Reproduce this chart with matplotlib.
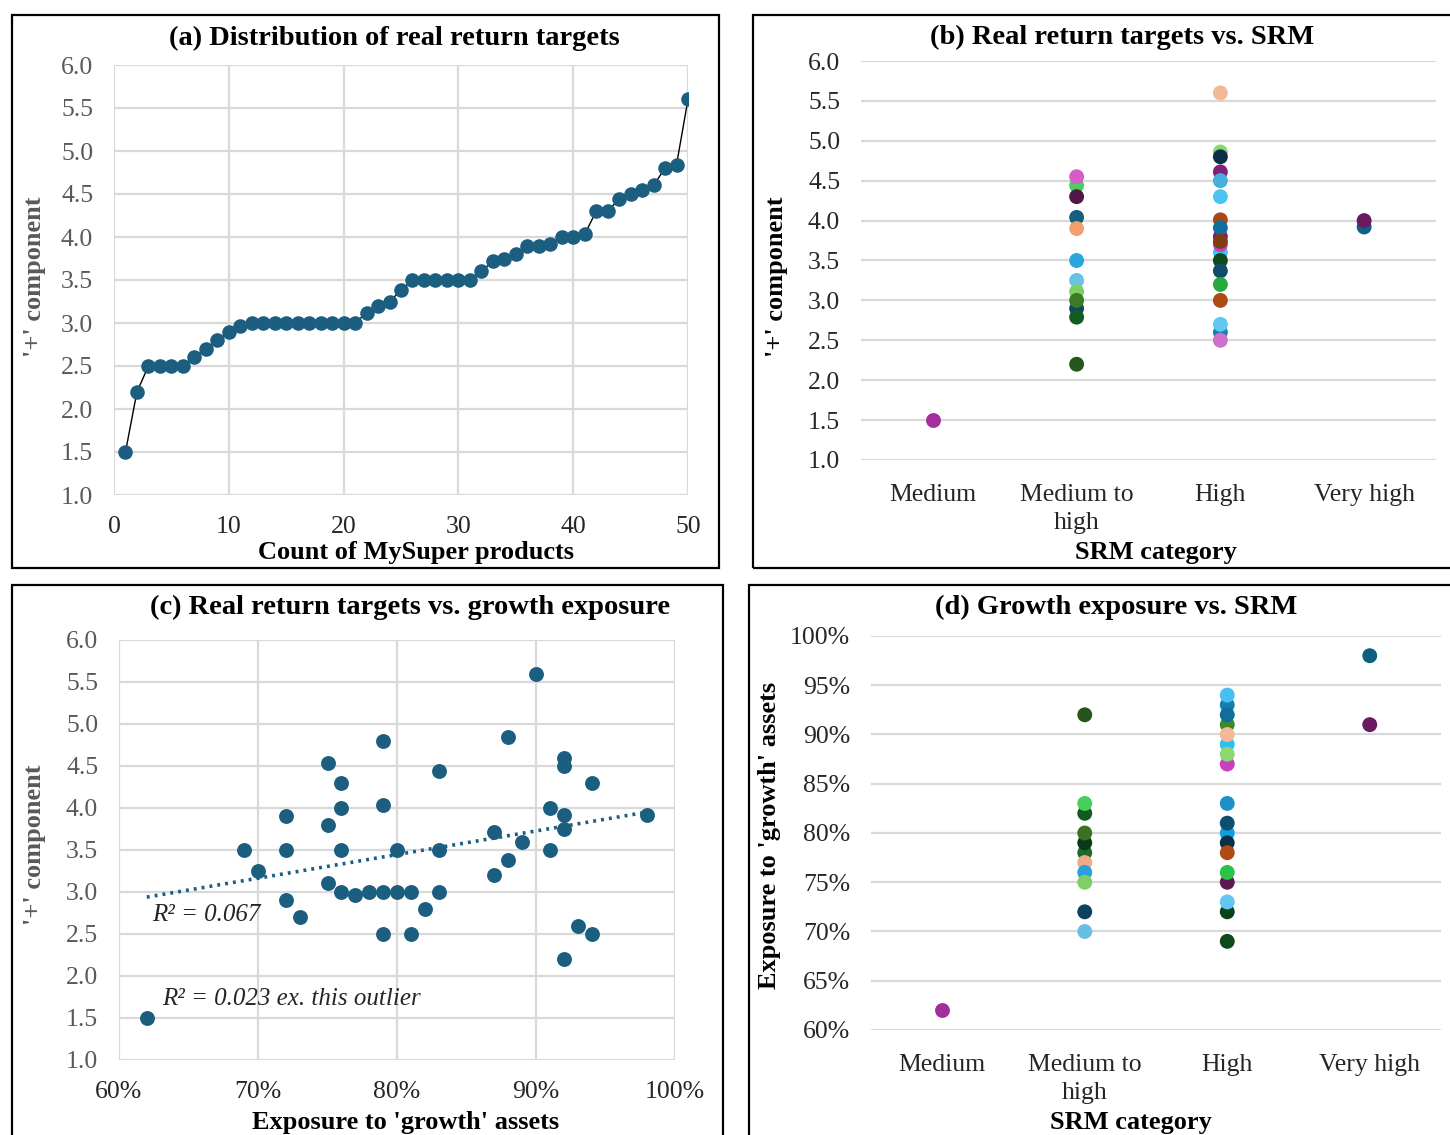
import numpy as np
import matplotlib
matplotlib.use("Agg")
import matplotlib.pyplot as plt
from matplotlib.patches import Rectangle
from matplotlib.ticker import MultipleLocator, FuncFormatter

plt.rcParams['font.family'] = ['Liberation Serif', 'DejaVu Serif']

W, H = 1450, 1135

# (a) sorted '+' component for each MySuper product
product_count = list(range(1, 51))
plus_sorted = [1.5, 2.2, 2.5, 2.5, 2.5, 2.5, 2.6, 2.7, 2.8, 2.9,
               2.96, 3.0, 3.0, 3.0, 3.0, 3.0, 3.0, 3.0, 3.0, 3.0,
               3.0, 3.12, 3.2, 3.25, 3.38, 3.5, 3.5, 3.5, 3.5, 3.5,
               3.5, 3.6, 3.72, 3.75, 3.8, 3.9, 3.9, 3.92, 4.0, 4.0,
               4.03, 4.3, 4.3, 4.44, 4.5, 4.55, 4.6, 4.8, 4.84, 5.6]

# (c) growth exposure (%) vs '+' component
growth_exposure = [62, 69, 70, 72, 72, 72, 73, 75, 75, 75, 76, 76, 76, 76, 77,
                   78, 79, 79, 79, 79, 80, 80, 81, 81, 82, 83, 83, 83, 87, 87,
                   88, 88, 89, 90, 91, 91, 92, 92, 92, 92, 92, 93, 94, 94, 98]
plus_vs_growth = [1.5, 3.5, 3.25, 3.9, 3.5, 2.9, 2.7, 4.54, 3.8, 3.11, 4.3, 4.0, 3.5, 3.0, 2.96,
                  3.0, 4.8, 4.03, 3.0, 2.5, 3.5, 3.0, 3.0, 2.5, 2.8, 4.44, 3.5, 3.0, 3.72, 3.2,
                  4.84, 3.38, 3.6, 5.6, 4.0, 3.5, 4.6, 4.5, 3.92, 3.75, 2.2, 2.6, 4.3, 2.5, 3.92]

srm_categories = ['Medium', 'Medium to\nhigh', 'High', 'Very high']

# (b) '+' component by SRM category
b_medium = [1.5]
b_medium_col = ['#a2309c']
b_mth = [4.44, 4.55, 4.3, 4.04, 3.9, 3.5, 3.25, 3.11, 2.9, 3.0, 2.79, 2.2]
b_mth_col = ['#4ccf5a', '#d35ec6', '#4f1848', '#14607f', '#f0a070', '#29a6dc',
             '#6ac1e6', '#7dd062', '#0f4868', '#3c7a25', '#135a25', '#27561b']
b_high = [5.6, 4.86, 4.8, 4.61, 4.5, 4.3, 3.6, 3.8, 3.7, 4.01, 3.91, 3.74,
          3.5, 3.37, 3.2, 3.0, 2.6, 2.7, 2.5]
b_high_col = ['#f4b896', '#8ad870', '#0a3048', '#84207a', '#45b0e0', '#4cc4f0',
              '#40c0f0', '#7a2070', '#c040c0', '#a84814', '#0e70a0', '#843a14',
              '#0f4a1e', '#124a6a', '#28a840', '#b04a14', '#1880b0', '#60c8f0', '#d070c8']
b_vhigh = [3.92, 4.0]
b_vhigh_col = ['#0e6088', '#6c1a60']

# (d) growth exposure (%) by SRM category
d_medium = [62]
d_medium_col = ['#a2309c']
d_mth = [92, 82, 83, 78, 79, 80, 77, 76, 75, 72, 70]
d_mth_col = ['#26541a', '#135a22', '#46d05a', '#1a6a28', '#0c3818', '#3a7222',
             '#f0aa88', '#28a0dc', '#7ed064', '#0e4060', '#68bfe6']
d_high = [93, 94, 91, 92, 89, 90, 87, 88, 83, 80, 81, 79, 78, 75, 76, 72, 73, 69]
d_high_col = ['#1580b0', '#45c0f0', '#3a8a28', '#0e709a', '#30c0f0', '#f4b896',
              '#c840c0', '#8ed874', '#1e90c8', '#10a0e0', '#0c5070', '#0a3048',
              '#b04a14', '#5e1850', '#2ac448', '#0c4018', '#60c8f0', '#0e4a1c']
d_vhigh = [98, 91]
d_vhigh_col = ['#0e6080', '#6a1a60']

BLUE = '#1b5e80'
GRID = '#d9d9d9'
TICK = '#595959'
TITLE_FS = 20.5
LABEL_FS = 19
TICK_FS = 18.5


def px_axes(fig, left, top, right, bottom):
    return fig.add_axes([left / W, 1 - bottom / H, (right - left) / W, (bottom - top) / H])


def ftext(fig, x, y, s, **kw):
    fig.text(x / W, 1 - y / H, s, ha='center', va='center', **kw)


def style_axes(ax, vgrid):
    for sp in ax.spines.values():
        sp.set_visible(False)
    ax.grid(axis='y', color=GRID, linewidth=1.6)
    if vgrid:
        ax.grid(axis='x', color=GRID, linewidth=1.6)
    ax.set_axisbelow(True)
    ax.tick_params(length=0, labelsize=TICK_FS, labelcolor=TICK, pad=15)


def cat_scatter(ax, groups):
    for i, (vals, cols) in enumerate(groups):
        ax.scatter([i] * len(vals), vals, s=115, c=cols, linewidths=0, zorder=3)
    ax.set_xlim(-0.5, 3.5)
    ax.set_xticks(range(4))
    ax.set_xticklabels(srm_categories, linespacing=1.35)
    ax.tick_params(axis='x', labelcolor='#262626', pad=17)


def main():
    fig = plt.figure(figsize=(W / 100, H / 100), dpi=100)

    # panel borders
    for (l, t, r, b) in [(12, 15, 719, 568), (753, 15, 1460, 568),
                         (12, 585, 723, 1150), (749, 585, 1460, 1150)]:
        fig.patches.append(Rectangle((l / W, 1 - b / H), (r - l) / W, (b - t) / H,
                                     transform=fig.transFigure, fill=False,
                                     edgecolor='black', linewidth=1.6))

    # (a)
    ax = px_axes(fig, 114, 65, 688, 495)
    style_axes(ax, True)
    ax.plot(product_count, plus_sorted, color='black', linewidth=1, zorder=2)
    ax.scatter(product_count, plus_sorted, s=110, color=BLUE, linewidths=0, zorder=3)
    ax.set_xlim(0, 50)
    ax.set_ylim(1, 6)
    ax.xaxis.set_major_locator(MultipleLocator(10))
    ax.yaxis.set_major_locator(MultipleLocator(0.5))
    ax.yaxis.set_major_formatter(FuncFormatter(lambda v, p: f'{v:.1f}'))
    ax.tick_params(axis='x', pad=15, labelcolor='#262626')
    ftext(fig, 394, 38, '(a) Distribution of real return targets', fontsize=TITLE_FS, weight='bold')
    ftext(fig, 416, 552, 'Count of MySuper products', fontsize=LABEL_FS, weight='bold')
    ftext(fig, 35, 277, "'+' component", fontsize=LABEL_FS, weight='bold', color=TICK, rotation=90)

    # (b)
    ax = px_axes(fig, 861, 61, 1436, 460)
    style_axes(ax, False)
    cat_scatter(ax, [(b_medium, b_medium_col), (b_mth, b_mth_col),
                     (b_high, b_high_col), (b_vhigh, b_vhigh_col)])
    ax.set_ylim(1, 6)
    ax.yaxis.set_major_locator(MultipleLocator(0.5))
    ax.yaxis.set_major_formatter(FuncFormatter(lambda v, p: f'{v:.1f}'))
    ax.tick_params(axis='y', labelcolor='#262626')
    ftext(fig, 1122, 37, '(b) Real return targets vs. SRM', fontsize=TITLE_FS, weight='bold')
    ftext(fig, 1156, 552, 'SRM category', fontsize=LABEL_FS, weight='bold')
    ftext(fig, 777, 277, "'+' component", fontsize=LABEL_FS, weight='bold', rotation=90)

    # (c)
    ax = px_axes(fig, 119, 640, 675, 1060)
    style_axes(ax, True)
    ax.scatter(growth_exposure, plus_vs_growth, s=115, color=BLUE, linewidths=0, zorder=3)
    slope, icpt = np.polyfit(growth_exposure, plus_vs_growth, 1)
    xs = np.array([min(growth_exposure), max(growth_exposure)])
    ax.plot(xs, slope * xs + icpt, color=BLUE, linewidth=2.6,
            linestyle=(0, (0.8, 1.4)), zorder=2)
    ax.set_xlim(60, 100)
    ax.set_ylim(1, 6)
    ax.xaxis.set_major_locator(MultipleLocator(10))
    ax.xaxis.set_major_formatter(FuncFormatter(lambda v, p: f'{v:.0f}%'))
    ax.yaxis.set_major_locator(MultipleLocator(0.5))
    ax.yaxis.set_major_formatter(FuncFormatter(lambda v, p: f'{v:.1f}'))
    ax.tick_params(axis='x', pad=15, labelcolor='#262626')
    ax.text(62.4, 2.73, 'R² = 0.067', fontsize=18, style='italic', color='#262626', va='center')
    ax.text(63.1, 1.73, 'R² = 0.023 ex. this outlier', fontsize=18, style='italic',
            color='#262626', va='center')
    ftext(fig, 410, 607, '(c) Real return targets vs. growth exposure', fontsize=TITLE_FS, weight='bold')
    ftext(fig, 406, 1123, "Exposure to 'growth' assets", fontsize=LABEL_FS, weight='bold')
    ftext(fig, 35, 845, "'+' component", fontsize=LABEL_FS, weight='bold', color=TICK, rotation=90)

    # (d)
    ax = px_axes(fig, 871, 636, 1441, 1030)
    style_axes(ax, False)
    cat_scatter(ax, [(d_medium, d_medium_col), (d_mth, d_mth_col),
                     (d_high, d_high_col), (d_vhigh, d_vhigh_col)])
    ax.set_ylim(60, 100)
    ax.yaxis.set_major_locator(MultipleLocator(5))
    ax.yaxis.set_major_formatter(FuncFormatter(lambda v, p: f'{v:.0f}%'))
    ax.tick_params(axis='y', labelcolor='#262626')
    ftext(fig, 1116, 607, '(d) Growth exposure vs. SRM', fontsize=TITLE_FS, weight='bold')
    ftext(fig, 1131, 1123, 'SRM category', fontsize=LABEL_FS, weight='bold')
    ftext(fig, 770, 835, "Exposure to 'growth' assets", fontsize=LABEL_FS, weight='bold', rotation=90)

    fig.savefig('out.png', dpi=100)


if __name__ == '__main__':
    main()
